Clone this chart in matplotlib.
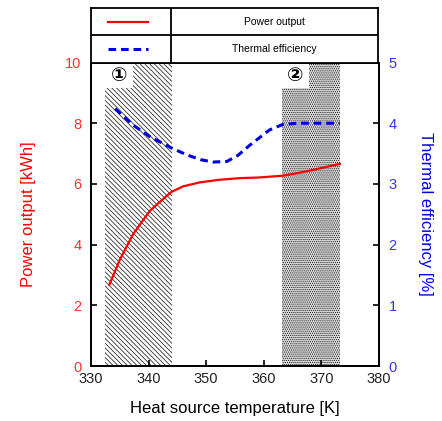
import matplotlib
matplotlib.use("Agg")
import matplotlib.pyplot as plt
from matplotlib.patches import Rectangle
import numpy as np

plt.rcParams['font.family'] = ['Liberation Sans', 'DejaVu Sans']
plt.rcParams['hatch.linewidth'] = 0.6

# Data
temp_power = [333.2, 335.0, 337.3, 340.2, 343.1, 344.0, 346.0, 348.9, 352.0, 355.8, 359.0, 363.3, 366.0, 369.0, 373.2]
power = [2.68, 3.50, 4.34, 5.11, 5.60, 5.74, 5.92, 6.05, 6.13, 6.19, 6.21, 6.27, 6.36, 6.48, 6.66]
temp_eff = [334.2, 337.3, 340.2, 344.0, 346.6, 349.0, 351.2, 353.6, 355.5, 357.6, 361.0, 363.3, 366.0, 370.0, 373.2]
eff = [4.24, 3.97, 3.78, 3.59, 3.48, 3.40, 3.36, 3.37, 3.47, 3.64, 3.89, 3.98, 4.00, 4.00, 4.00]
regions = [(332.5, 344.1), (363.2, 373.3)]
region_labels = ['\u2460', '\u2461']
x_ticks = [330, 340, 350, 360, 370, 380]
left_ticks = [0, 2, 4, 6, 8, 10]
right_ticks = [0, 1, 2, 3, 4, 5]
series_names = ['Power output', 'Thermal efficiency']

W, H = 442, 421
fig = plt.figure(figsize=(W / 100, H / 100), dpi=100)
ax = fig.add_axes([91 / W, (H - 366) / H, (379 - 91) / W, (366 - 62.5) / H])
ax2 = ax.twinx()

# shaded regions
ax.axvspan(regions[0][0], regions[0][1], facecolor='white', edgecolor='#333333',
           hatch='\\' * 7, linewidth=0, zorder=0)
ax.axvspan(regions[1][0], regions[1][1], facecolor='#dcdcdc', edgecolor='#222222',
           hatch='.' * 8, linewidth=0, zorder=0)

# label boxes
ax.add_patch(Rectangle((regions[0][0], 0.915), 4.8, 0.085, transform=ax.get_xaxis_transform(),
                       facecolor='white', edgecolor='none', zorder=1))
ax.add_patch(Rectangle((regions[1][0], 0.915), 4.7, 0.085, transform=ax.get_xaxis_transform(),
                       facecolor='white', edgecolor='none', zorder=1))
ax.text(334.9, 0.957, region_labels[0], transform=ax.get_xaxis_transform(),
        ha='center', va='center', fontsize=14, fontweight='bold', family=['DejaVu Sans'], zorder=2)
ax.text(365.5, 0.957, region_labels[1], transform=ax.get_xaxis_transform(),
        ha='center', va='center', fontsize=14, fontweight='bold', family=['DejaVu Sans'], zorder=2)

ax.plot(temp_power, power, color='red', lw=1.6, zorder=3)
ax2.plot(temp_eff, eff, color='#0000dd', lw=2.2, dashes=(2.5, 1.6), zorder=3)

ax.set_xlim(330, 380)
ax.set_ylim(0, 10)
ax2.set_ylim(0, 5)
ax.set_xticks(x_ticks)
ax.set_yticks(left_ticks)
ax2.set_yticks(right_ticks)

for a in (ax, ax2):
    a.tick_params(direction='in', length=4, width=1.2, labelsize=10.5)
    for s in a.spines.values():
        s.set_linewidth(1.3)
ax.tick_params(axis='y', colors='black', labelcolor='#ff3030', pad=7)
ax.tick_params(axis='x', labelcolor='#222222', pad=4)
ax2.tick_params(axis='y', labelcolor='#3333ff', pad=7)

ax.set_xlabel('Heat source temperature [K]', fontsize=12, labelpad=11)
ax.set_ylabel('Power output [kWh]', fontsize=12, color='red', labelpad=21)
ax2.set_ylabel('Thermal efficiency [%]', fontsize=12, color='#0000ee', rotation=-90, labelpad=26)

# legend table above the axes
lg = fig.add_axes([91 / W, (H - 62.5) / H, (378 - 91) / W, (62.5 - 8) / H])
lg.set_xlim(0, 1)
lg.set_ylim(0, 2)
lg.set_xticks([])
lg.set_yticks([])
for s in lg.spines.values():
    s.set_linewidth(1.3)
div = (171 - 91) / (378 - 91)
lg.axvline(div, color='black', lw=1.3)
lg.axhline(1, color='black', lw=1.3)
lg.plot([0.06, 0.2], [1.5, 1.5], color='red', lw=1.6)
lg.plot([0.06, 0.2], [0.5, 0.5], color='#0000dd', lw=2.2, dashes=(2.5, 1.6))
cx = (div + 1) / 2
lg.text(cx, 1.5, series_names[0], ha='center', va='center', fontsize=7.5)
lg.text(cx, 0.5, series_names[1], ha='center', va='center', fontsize=7.5)

fig.savefig('out.png', dpi=100)
